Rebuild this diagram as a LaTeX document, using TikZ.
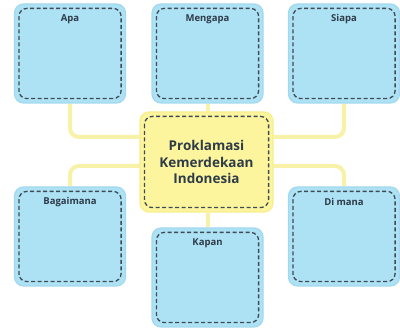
\documentclass[tikz,border=0pt]{standalone}
\usepackage{fontspec}
\setmainfont{Open Sans}
\usetikzlibrary{backgrounds}
\definecolor{boxblue}{HTML}{ADE1F4}
\definecolor{edgeblue}{HTML}{A3D9EF}
\definecolor{boxyellow}{HTML}{FCF59E}
\definecolor{edgeyellow}{HTML}{F7EE8C}
\definecolor{connyellow}{HTML}{F8F2A8}
\definecolor{dashgray}{HTML}{3E4A55}
\definecolor{txt}{HTML}{2E3B48}
\begin{document}
\begin{tikzpicture}[x=1pt,y=-1pt,
  qbox/.style={draw=edgeblue,line width=1.2pt,fill=boxblue,rounded corners=9pt,minimum width=111pt,minimum height=99pt,inner sep=0pt},
  mainbox/.style={draw=edgeyellow,line width=1.2pt,fill=boxyellow,rounded corners=9pt,minimum width=133pt,minimum height=100pt,inner sep=0pt,align=center,font=\fontsize{13.5}{16.5}\selectfont\bfseries,text=txt},
  dashin/.style={draw=dashgray,line width=1.3pt,dash pattern=on 4pt off 2.5pt,rounded corners=8pt},
  conn/.style={draw=connyellow,line width=4pt,rounded corners=9pt},
  qlabel/.style={font=\fontsize{9.5}{11}\selectfont\bfseries,text=txt,anchor=center}
]
\useasboundingbox (0,0) rectangle (400,331);
% question boxes
\node[qbox] (apa) at (70,53.5) {};
\node[qbox] (mengapa) at (207.5,53.5) {};
\node[qbox] (siapa) at (344,53.5) {};
\node[qbox] (bagaimana) at (70,236.5) {};
\node[qbox] (dimana) at (344,236.5) {};
\node[qbox] (kapan) at (207.5,277.5) {};
\node[mainbox] (main) at (206.5,162) {Proklamasi\\Kemerdekaan\\Indonesia};
% inner dashed borders
\foreach \n in {apa,mengapa,siapa,bagaimana,dimana,kapan,main}{
  \draw[dashin] ([shift={(5,5)}]\n.north west) rectangle ([shift={(-5,-5)}]\n.south east);
}
% labels
\node[qlabel] (lapa) at ([yshift=-16pt]apa.north) {Apa};
\node[qlabel] (lmengapa) at ([yshift=-16pt]mengapa.north) {Mengapa};
\node[qlabel] (lsiapa) at ([yshift=-16pt]siapa.north) {Siapa};
\node[qlabel] (lbagaimana) at ([yshift=-16pt]bagaimana.north) {Bagaimana};
\node[qlabel] (ldimana) at ([yshift=-16pt]dimana.north) {Di mana};
\node[qlabel] (lkapan) at ([yshift=-16pt]kapan.north) {Kapan};
% connectors behind
\begin{pgfonlayer}{background}
\fill[white] (0,0) rectangle (400,331);
\draw[conn] (apa.south) |- (main.west |- 0,137);
\draw[conn] (siapa.south) |- (main.east |- 0,137);
\draw[conn] (bagaimana.north) |- (main.west |- 0,166);
\draw[conn] (dimana.north) |- (main.east |- 0,166);
\draw[conn] (mengapa.south) -- (main.north -| mengapa.south);
\draw[conn] (main.south -| kapan.north) -- (kapan.north);
\end{pgfonlayer}
\end{tikzpicture}
\end{document}
